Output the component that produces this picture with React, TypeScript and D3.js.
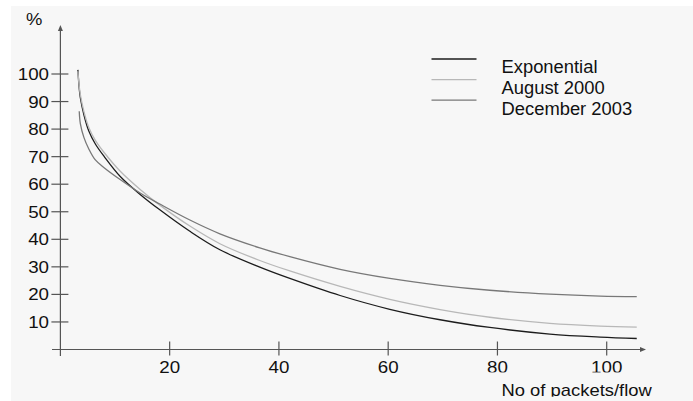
import React from "react";
import * as d3 from "d3";

// packets per flow (x)
const packets = [3.2, 3.45, 3.65, 4.3, 5.2, 6.4, 8, 11, 14.6, 18.2, 23.7, 29.2, 36.5, 42, 51.2, 60.3, 69.5, 78.6, 89.6, 98.8, 105.5];

// % of flows, one array per series
const exponential = [101.5, 94.7, 91.4, 85.2, 79.3, 74.6, 70.1, 62.7, 56.3, 50.7, 42.9, 36.2, 29.9, 25.8, 19.6, 14.6, 10.8, 8.0, 5.6, 4.5, 4.0];
const august2000 = [101.0, 95.5, 92.5, 86.4, 80.6, 75.9, 71.5, 64.6, 58.1, 52.4, 44.8, 38.4, 32.3, 28.5, 22.9, 18.2, 14.5, 11.7, 9.5, 8.5, 8.1];
const december2003 = [null, 86.5, 82.0, 77.0, 72.8, 68.8, 66.0, 61.6, 56.8, 52.8, 47.0, 42.0, 36.9, 33.7, 29.1, 25.8, 23.3, 21.5, 20.1, 19.4, 19.2];

const seriesNames = ["Exponential", "August 2000", "December 2003"];
const seriesColors = ["#1c1c1c", "#b8b8b8", "#787878"];

const yTicks = [10, 20, 30, 40, 50, 60, 70, 80, 90, 100];
const xTicks = [20, 40, 60, 80, 100];

const BG = "#f7f7f7";
const AXIS = "#555";
const FONT = "'Liberation Sans', Arial, Helvetica, sans-serif";

// the source font is a little stretched sideways
function Txt(props: { x: number; y: number; anchor?: string; size?: number; sx?: number; children: React.ReactNode }) {
  const sx = props.sx ?? 1.15;
  return (
    <text
      transform={`translate(${props.x},${props.y}) scale(${sx},1)`}
      textAnchor={props.anchor || "start"}
      fontSize={props.size || 16}
      fontFamily={FONT}
      fill="#111"
    >
      {props.children}
    </text>
  );
}

export default function App() {
  const width = 693;
  const height = 401;

  const x = d3.scaleLinear().domain([0, 100]).range([60.4, 606.7]);
  const y = d3.scaleLinear().domain([0, 100]).range([349.5, 74]);

  const line = d3
    .line<[number, number | null]>()
    .defined(d => d[1] != null)
    .x(d => x(d[0]))
    .y(d => y(d[1] as number))
    .curve(d3.curveCatmullRom.alpha(0.5));

  const series = [exponential, august2000, december2003].map(vals =>
    packets.map((p, i) => [p, vals[i]] as [number, number | null])
  );

  const x0 = x(0);
  const y0 = y(0);

  return (
    <svg width={width} height={height} style={{ position: "absolute", left: 0, top: 0 }}>
      <rect x={0} y={0} width={width} height={height} fill="#fff" />
      <rect x={11} y={6} width={width - 11} height={height - 6} fill={BG} />

      {/* y axis */}
      <line x1={x0} x2={x0} y1={356} y2={30} stroke={AXIS} strokeWidth={1.2} />
      <path d={`M${x0},25 L${x0 - 2.5},31 L${x0 + 2.5},31 Z`} fill={AXIS} />
      {yTicks.map(t => (
        <g key={"y" + t}>
          <line x1={x0 - 9} x2={x0 + 8} y1={y(t)} y2={y(t)} stroke={AXIS} strokeWidth={1.2} />
          <Txt x={49} y={y(t) + 6} anchor="end" size={16.3}>{t}</Txt>
        </g>
      ))}
      <Txt x={26} y={25}>%</Txt>

      {/* x axis */}
      <line x1={52} x2={641} y1={y0} y2={y0} stroke={AXIS} strokeWidth={1.2} />
      <path d={`M646,${y0} L640,${y0 - 2.5} L640,${y0 + 2.5} Z`} fill={AXIS} />
      {xTicks.map(t => (
        <g key={"x" + t}>
          <line x1={x(t)} x2={x(t)} y1={y0 - 8} y2={y0 + 6} stroke={AXIS} strokeWidth={1.2} />
          <Txt x={x(t)} y={373} anchor="middle" size={16.3}>{t}</Txt>
        </g>
      ))}
      <Txt x={501.5} y={396}>No of packets/flow</Txt>

      {/* curves */}
      {series.map((s, i) => (
        <path key={seriesNames[i]} d={line(s) || ""} fill="none" stroke={seriesColors[i]} strokeWidth={1.3} />
      ))}

      {/* legend */}
      {seriesNames.map((n, i) => (
        <g key={"l" + n}>
          <line x1={431.5} x2={476.5} y1={59 + i * 20.6} y2={59 + i * 20.6} stroke={seriesColors[i]} strokeWidth={1.3} />
          <Txt x={501.5} y={72.7 + i * 21.3} size={17.5} sx={1.05}>{n}</Txt>
        </g>
      ))}

      {/* the source picture is cut off along these strips */}
      <rect x={440} y={372.4} width={width - 440} height={9} fill={BG} />
      <rect x={480} y={396.7} width={width - 480} height={5} fill={BG} />
    </svg>
  );
}
